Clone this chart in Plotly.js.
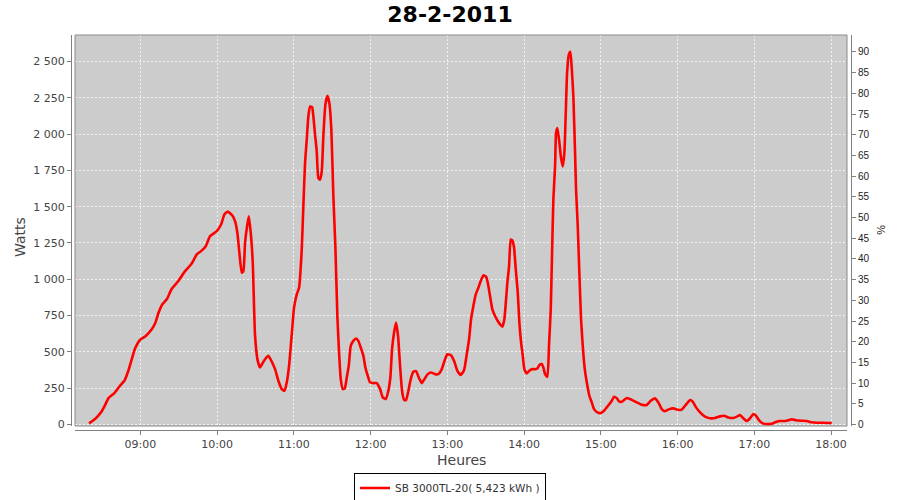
<!DOCTYPE html>
<html>
<head>
<meta charset="utf-8">
<script src="https://cdn.plot.ly/plotly-3.0.1.min.js"></script>
<style>html,body{margin:0;padding:0;background:#fff;}#chart{width:900px;height:500px;}</style>
</head>
<body>
<div id="chart"></div>
<script>
const chartDate = "2011-02-28";
const chartTitle = "28-2-2011";
const seriesName = "SB 3000TL-20( 5,423 kWh )";

const times = [
"08:19:53","08:24:35","08:29:16","08:32:24","08:34:59","08:39:40","08:44:08","08:47:29","08:50:37","08:53:17",
"08:55:52","08:59:46","09:04:13","09:08:55","09:11:29","09:14:04","09:17:12","09:20:38","09:24:33","09:29:43",
"09:34:57","09:40:11","09:44:06","09:47:28","09:51:08","09:54:30","09:59:44","10:03:06","10:05:41","10:08:20",
"10:11:56","10:14:02","10:15:50","10:17:25","10:19:17","10:20:32","10:21:52","10:23:26","10:24:45","10:26:19",
"10:27:53","10:29:41","10:31:47","10:33:35","10:36:57","10:40:05","10:41:25","10:45:19","10:47:54","10:50:33",
"10:52:35","10:54:28","10:56:16","10:58:23","11:00:10","11:02:17","11:04:05","11:06:11","11:07:26","11:08:46",
"11:10:06","11:11:21","11:12:41","11:14:15","11:15:16","11:16:35","11:17:55","11:19:10","11:20:30","11:21:50",
"11:23:05","11:24:39","11:26:13","11:27:46","11:29:20","11:30:54","11:32:28","11:34:02","11:35:22","11:36:41",
"11:38:15","11:39:49","11:41:23","11:42:56","11:44:30","11:46:32","11:48:39","11:50:27","11:52:19","11:54:22",
"11:55:55","11:57:48","11:59:36","12:02:11","12:04:50","12:07:25","12:09:32","12:11:52","12:13:54","12:15:28",
"12:16:48","12:18:22","12:19:55","12:21:29","12:23:03","12:24:37","12:26:11","12:27:44","12:29:18","12:31:25",
"12:33:27","12:35:34","12:37:40","12:40:01","12:42:03","12:44:43","12:47:17","12:50:25","12:53:00","12:55:40",
"12:58:14","13:00:02","13:02:41","13:05:16","13:07:51","13:10:31","13:13:05","13:15:12","13:17:00","13:18:34",
"13:20:22","13:22:14","13:24:16","13:26:09","13:28:11","13:30:17","13:31:37","13:33:25","13:35:13","13:37:20",
"13:39:26","13:41:14","13:43:02","13:44:36","13:45:56","13:46:57","13:48:17","13:49:37","13:50:52","13:52:11",
"13:53:31","13:55:05","13:56:20","13:57:40","13:59:00","14:00:15","14:02:07","14:04:09","14:06:02","14:08:37",
"14:10:24","14:11:58","14:13:51","14:15:06","14:16:25","14:18:13","14:19:33","14:20:53","14:21:54","14:22:55",
"14:24:15","14:25:02","14:26:03","14:27:22","14:28:56","14:30:16","14:31:31","14:32:37","14:33:38","14:34:58",
"14:36:13","14:37:18","14:38:33","14:39:53","14:40:40","14:41:59","14:43:14","14:44:34","14:45:54","14:47:28",
"14:49:02","14:51:04","14:52:56","14:54:44","14:57:19","14:59:58","15:02:33","15:04:40","15:06:42","15:08:34",
"15:10:22","15:12:29","15:14:31","15:16:23","15:20:18","15:24:13","15:28:07","15:32:02","15:35:56","15:39:04",
"15:42:25","15:45:00","15:47:40","15:50:14","15:53:36","15:56:44","15:59:52","16:03:18","16:05:53","16:09:47",
"16:11:54","16:14:29","16:17:37","16:21:31","16:25:26","16:29:20","16:33:15","16:36:22","16:39:44","16:43:39",
"16:46:46","16:48:53","16:51:28","16:54:07","16:56:42","16:59:17","17:01:23","17:03:58","17:06:38","17:09:46",
"17:13:40","17:16:15","17:19:37","17:24:04","17:26:39","17:29:19","17:32:40","17:37:08","17:41:02","17:44:57",
"17:48:52","17:54:01","18:00:35"
];

const watts = [
8,38,84,134,180,216,267,301,370,450,
523,583,610,656,695,766,828,862,935,988,
1056,1109,1171,1194,1228,1297,1331,1377,1446,1466,
1439,1400,1320,1183,1045,1056,1251,1365,1434,1320,
1114,610,438,393,443,473,455,381,301,244,
232,290,404,622,805,896,942,1205,1503,1801,
1961,2121,2190,2185,2121,1995,1881,1698,1686,1743,
1984,2201,2263,2213,2030,1571,1228,747,496,312,
244,249,324,404,541,576,592,576,530,473,
393,335,290,285,285,244,187,175,232,324,
519,633,702,610,404,232,170,168,221,312,
363,367,324,285,312,347,358,347,347,381,
450,484,478,438,370,342,374,484,587,725,
816,896,942,988,1027,1018,977,885,793,747,
713,690,674,725,862,977,1091,1274,1267,1217,
1068,908,702,565,473,381,352,370,381,381,
386,409,416,393,347,328,553,793,1183,1549,
1777,2007,2041,1961,1835,1777,1870,2144,2419,2545,
2567,2453,2258,1870,1617,1365,1045,725,541,381,
290,198,152,106,84,79,95,118,141,163,
191,180,157,157,182,170,152,136,134,163,
180,152,106,91,106,111,102,102,129,168,
157,118,84,54,43,45,56,60,49,45,
56,65,43,24,43,72,60,26,8,3,
5,15,24,24,29,36,29,26,24,15,
12,12,10
];

const wattTicks = [0,250,500,750,1000,1250,1500,1750,2000,2250,2500];
const pctTicks = [0,5,10,15,20,25,30,35,40,45,50,55,60,65,70,75,80,85,90];

const xs = times.map(t => chartDate + " " + t);

const W = 900, H = 500;
const mL = 71, mR = 49, mT = 35, mB = 70;
const pw = W - mL - mR, ph = H - mT - mB;
const off = 4;

const traces = [
  {
    x: xs, y: watts, type: "scatter", mode: "lines",
    name: seriesName,
    line: {color: "#ff0000", width: 2.6, shape: "spline", smoothing: 0.5},
    hoverinfo: "x+y"
  },
  {
    x: [xs[0]], y: [null], yaxis: "y2", type: "scatter", mode: "lines",
    showlegend: false, hoverinfo: "skip", line: {color: "rgba(0,0,0,0)"}
  }
];

const axFont = {family: "DejaVu Sans", size: 11, color: "#444444"};
const gridCol = "rgba(255,255,255,0.75)";

const layout = {
  width: W, height: H,
  margin: {l: mL, r: mR, t: mT, b: mB, pad: 0},
  paper_bgcolor: "#ffffff",
  plot_bgcolor: "#cccccc",
  separators: ", ",
  font: {family: "DejaVu Sans", color: "#444444"},
  title: {
    text: "<b>" + chartTitle + "</b>",
    font: {family: "DejaVu Sans", size: 22, color: "#000000"},
    x: 0.5, xref: "container", xanchor: "center",
    y: 1 - 14 / H, yref: "container", yanchor: "middle"
  },
  showlegend: true,
  legend: {
    orientation: "h",
    x: 0.5, xref: "container", xanchor: "center",
    y: (H - 488) / H, yref: "container", yanchor: "middle",
    bgcolor: "#ffffff", bordercolor: "#000000", borderwidth: 1,
    font: {family: "DejaVu Sans", size: 10.5, color: "#333333"},
    itemwidth: 30
  },
  xaxis: {
    type: "date",
    domain: [off / pw, 1 - off / pw],
    anchor: "free", position: 0,
    range: [chartDate + " 08:08:54", chartDate + " 18:12:30"],
    tick0: chartDate + " 09:00:00", dtick: 3600000,
    tickformat: "%H:%M",
    showgrid: true, gridcolor: gridCol, gridwidth: 1, griddash: "2px,2px",
    zeroline: false,
    showline: true, linecolor: "#808080", linewidth: 1,
    ticks: "outside", ticklen: 4, tickcolor: "#808080",
    tickfont: axFont
  },
  yaxis: {
    domain: [off / ph, 1],
    anchor: "free", position: 0,
    range: [-10.3, 2682],
    tickvals: wattTicks, tickformat: ",d",
    showgrid: true, gridcolor: gridCol, gridwidth: 1, griddash: "2px,2px",
    zeroline: false,
    showline: true, linecolor: "#808080", linewidth: 1,
    ticks: "outside", ticklen: 4, tickcolor: "#808080",
    tickfont: axFont
  },
  yaxis2: {
    overlaying: "y", side: "right",
    anchor: "free", position: 1,
    range: [-0.36, 94.1],
    tickvals: pctTicks,
    showgrid: false, zeroline: false,
    showline: true, linecolor: "#808080", linewidth: 1,
    ticks: "outside", ticklen: 4, tickcolor: "#808080",
    tickfont: {family: "Liberation Sans", size: 10, color: "#222222"}
  },
  shapes: [
    {type: "rect", xref: "x domain", yref: "y domain", x0: 0, x1: 1, y0: 0, y1: 1,
     line: {color: "#8a8a8a", width: 1}, fillcolor: "rgba(0,0,0,0)", layer: "above"}
  ],
  annotations: [
    {text: "Watts", xref: "paper", yref: "paper", x: (20 - mL) / pw, y: (H - mB - 237) / ph,
     xanchor: "center", yanchor: "middle", textangle: -90, showarrow: false,
     font: {family: "DejaVu Sans", size: 14, color: "#444444"}},
    {text: "Heures", xref: "paper", yref: "paper", x: (461 - mL) / pw, y: (H - mB - 460) / ph,
     xanchor: "center", yanchor: "middle", showarrow: false,
     font: {family: "DejaVu Sans", size: 14, color: "#444444"}},
    {text: "%", xref: "paper", yref: "paper", x: (881 - mL) / pw, y: (H - mB - 230) / ph,
     xanchor: "center", yanchor: "middle", textangle: 90, showarrow: false,
     font: {family: "Liberation Sans", size: 11, color: "#222222"}}
  ]
};

Plotly.newPlot("chart", traces, layout, {displayModeBar: false, staticPlot: true});
</script>
</body>
</html>
